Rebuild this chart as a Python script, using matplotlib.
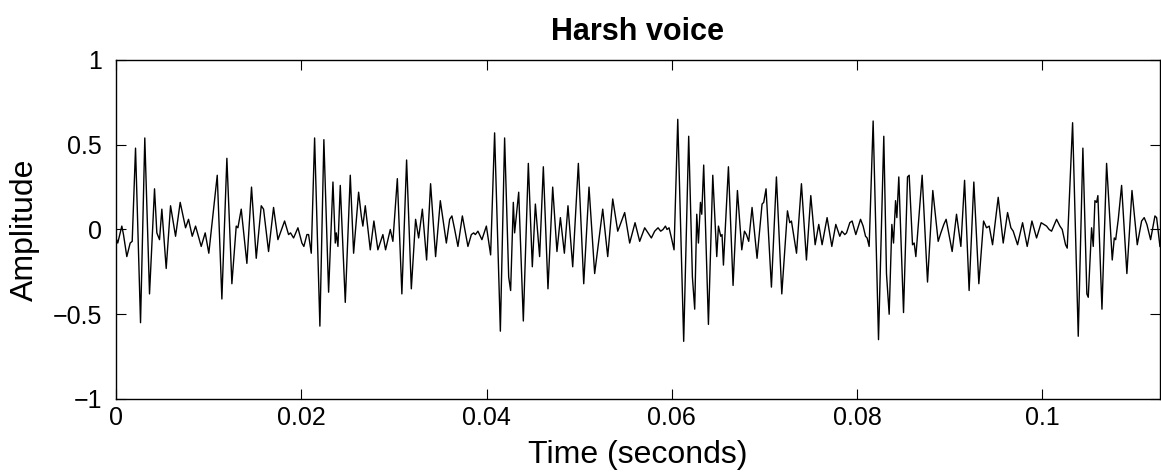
import numpy as np
import matplotlib
matplotlib.use("Agg")
import matplotlib.pyplot as plt

# Waveform turning points: time in milliseconds, amplitude (normalised)
t_ms = [
    0.00, 0.19, 0.63, 0.81, 1.17, 1.53, 1.75, 2.11, 2.65, 3.11, 3.62, 4.16, 4.41, 4.70, 4.95,
    5.42, 5.89, 6.43, 6.93, 7.51, 7.83, 8.23, 8.59, 9.20, 9.63, 10.02, 10.93,
    11.43, 11.97, 12.51, 12.98, 13.16, 13.52, 14.13, 14.63, 15.14, 15.68, 15.93, 16.47, 17.01,
    17.48, 18.20, 18.63, 18.84, 19.17, 19.64, 20.07, 20.28, 20.61, 20.79, 21.08, 21.44, 22.01,
    22.44, 22.95, 23.42, 23.67, 23.78, 23.96, 24.21, 24.75, 25.29, 25.65, 26.19, 26.48, 26.65,
    26.91, 27.45, 27.84, 28.27, 28.81, 29.10, 29.61, 29.89, 30.37, 30.86, 31.37, 31.88, 32.34,
    32.67, 33.07, 33.53,
    33.96, 34.50, 35.01, 35.66, 36.02, 36.26, 36.56, 36.91, 37.39, 37.99, 38.36, 38.61, 38.79,
    39.07, 39.50, 39.98, 40.44, 40.87, 41.49, 41.95, 42.39, 42.60, 42.89, 43.03, 43.47, 43.97,
    44.51, 44.94,
    45.27, 45.73, 46.13, 46.63, 47.14, 47.60, 47.97, 48.40, 48.79, 49.30, 49.91, 50.49, 51.06,
    51.67, 52.54, 53.08, 53.62, 54.16, 54.37, 54.91, 55.45, 56.03, 56.53,
    57.07, 57.43, 57.79, 58.15, 58.51, 58.80, 59.05, 59.31, 59.48, 59.70, 59.96, 60.24, 60.64,
    61.28, 61.82, 62.22, 62.47, 62.69, 62.87, 63.09, 63.23, 63.44, 63.95, 64.42, 64.85, 65.03,
    65.28, 65.42, 65.57, 66.11, 66.61, 67.08, 67.55,
    67.84, 68.05, 68.30, 68.66, 69.20, 69.74, 69.92, 70.17, 70.75, 71.29, 71.87, 72.48, 72.73,
    72.91, 73.46, 73.99, 74.53, 75.00, 75.47, 75.86, 76.22, 76.76, 77.27, 77.70, 78.13, 78.35,
    78.67, 78.86, 79.21,
    79.46, 79.86, 80.37, 80.65, 80.91, 81.08, 81.30, 81.73, 82.31, 82.88, 83.17, 83.46, 83.75,
    83.93, 84.15, 84.29, 84.50, 85.01, 85.44, 85.62, 85.98, 86.16, 86.34, 87.02, 87.60, 88.17,
    88.75, 89.04, 89.36, 89.61, 90.26,
    90.73, 91.20, 91.60, 92.09, 92.60, 93.14, 93.65, 93.97, 94.26, 94.62, 95.23, 95.77, 96.24,
    96.60, 96.85, 97.32, 97.86, 98.36, 98.87, 99.37, 99.87, 100.45, 100.73, 100.99, 101.53,
    101.89, 102.14, 102.50, 102.68, 103.26, 103.87, 104.37, 104.80, 104.95, 105.31, 105.49,
    105.67, 105.85, 105.99, 106.43, 106.93, 107.54, 107.76, 107.91, 108.19, 108.55, 109.12,
    109.67, 110.24, 110.71, 110.99, 111.28, 111.68, 112.15, 112.33, 112.69,
]
amplitude = [
    -0.05, -0.08, 0.02, -0.03, -0.16, -0.08, -0.07, 0.48, -0.55, 0.54, -0.38, 0.24, -0.02, -0.06, 0.12,
    -0.23, 0.14, -0.04, 0.16, 0.01, 0.06, -0.04, 0.02, -0.10, -0.02, -0.14, 0.32,
    -0.41, 0.42, -0.32, 0.02, 0.01, 0.12, -0.20, 0.25, -0.17, 0.14, 0.12, -0.13, 0.13,
    -0.06, 0.05, -0.03, -0.02, -0.05, 0.01, -0.08, -0.10, -0.03, -0.03, -0.14, 0.54, -0.57,
    0.53, -0.37, 0.28, -0.08, -0.02, -0.10, 0.26, -0.43, 0.32, -0.14, 0.22, 0.08, 0.02,
    0.14, -0.12, 0.05, -0.12, -0.03, -0.12, 0.00, -0.07, 0.30, -0.38, 0.41, -0.35, 0.06,
    -0.05, 0.12, -0.18,
    0.27, -0.16, 0.17, -0.08, 0.06, 0.08, 0.00, -0.10, 0.08, -0.10, -0.03, -0.02, -0.03,
    -0.01, -0.06, 0.02, -0.15, 0.57, -0.60, 0.54, -0.28, -0.36, 0.16, -0.02, 0.22, -0.54,
    0.39, -0.22,
    0.15, -0.16, 0.37, -0.35, 0.25, -0.13, 0.07, -0.14, 0.14, -0.22, 0.39, -0.32, 0.25,
    -0.26, 0.12, -0.16, 0.18, -0.01, 0.02, 0.10, -0.08, 0.04, -0.07,
    0.01, -0.02, -0.05, -0.01, 0.01, -0.01, 0.00, 0.02, 0.00, 0.01, -0.05, -0.12, 0.65,
    -0.66, 0.55, -0.28, -0.47, 0.09, -0.08, 0.16, 0.09, 0.38, -0.56, 0.32, -0.16, 0.02,
    -0.04, -0.03, -0.21, 0.37, -0.33, 0.23, -0.12,
    -0.01, -0.03, -0.07, 0.13, -0.17, 0.15, 0.16, 0.24, -0.34, 0.31, -0.38, 0.11, 0.04,
    0.05, -0.14, 0.27, -0.18, 0.20, -0.09, 0.03, -0.09, 0.07, -0.10, 0.03, -0.04, -0.01,
    -0.03, -0.02, 0.04,
    0.05, -0.03, 0.06, 0.02, -0.04, -0.05, -0.10, 0.64, -0.65, 0.55, -0.26, -0.50, 0.03,
    -0.08, 0.17, 0.07, 0.31, -0.49, 0.31, 0.32, -0.09, -0.08, -0.16, 0.32, -0.31, 0.23,
    -0.07, -0.02, 0.03, 0.06, -0.13,
    0.09, -0.10, 0.29, -0.36, 0.28, -0.32, 0.05, 0.01, 0.02, -0.09, 0.19, -0.08, 0.10,
    0.01, -0.01, -0.09, 0.04, -0.10, 0.05, -0.05, 0.04, 0.02, 0.00, -0.01, 0.06,
    0.02, 0.00, -0.09, -0.11, 0.63, -0.63, 0.48, -0.38, -0.40, 0.01, -0.10,
    0.17, 0.16, 0.20, -0.47, 0.39, -0.18, -0.05, -0.06, 0.06, 0.26, -0.26,
    0.23, -0.09, 0.05, 0.07, 0.03, -0.06, 0.08, 0.07, -0.10,
]

x_ticks = [0, 0.02, 0.04, 0.06, 0.08, 0.1]
x_tick_labels = ["0", "0.02", "0.04", "0.06", "0.08", "0.1"]
y_ticks = [-1, -0.5, 0, 0.5, 1]
y_tick_labels = ["\u22121", "\u22120.5", "0", "0.5", "1"]

plt.rcParams["font.family"] = ["Liberation Sans", "DejaVu Sans"]

t = np.array(t_ms) / 1000.0
amp = np.array(amplitude)

fig = plt.figure(figsize=(11.61, 4.72), dpi=100)
ax = fig.add_axes([0.0999, 0.1547, 0.8992, 0.7182])

ax.plot(t, amp, color="black", linewidth=1.0)

ax.set_xlim(0, t[-1])
ax.set_ylim(-1, 1)
ax.set_xticks(x_ticks)
ax.set_xticklabels(x_tick_labels)
ax.set_yticks(y_ticks)
ax.set_yticklabels(y_tick_labels)

ax.tick_params(direction="in", length=7, width=0.8, labelsize=18,
               top=True, right=True)
ax.tick_params(axis="y", pad=10)
ax.tick_params(axis="x", pad=5)
for side in ax.spines.values():
    side.set_linewidth(1.0)

ax.set_title("Harsh voice", fontsize=22, fontweight="bold", pad=0,
             y=1.0826, va="center")
ax.set_xlabel("Time (seconds)", fontsize=23)
ax.xaxis.set_label_coords(0.5, -0.165)
ax.xaxis.label.set_verticalalignment("center")
ax.set_ylabel("Amplitude", fontsize=23)
ax.yaxis.set_label_coords(-0.0872, 0.5)
ax.yaxis.label.set_verticalalignment("center")

fig.savefig("out.png", dpi=100)
